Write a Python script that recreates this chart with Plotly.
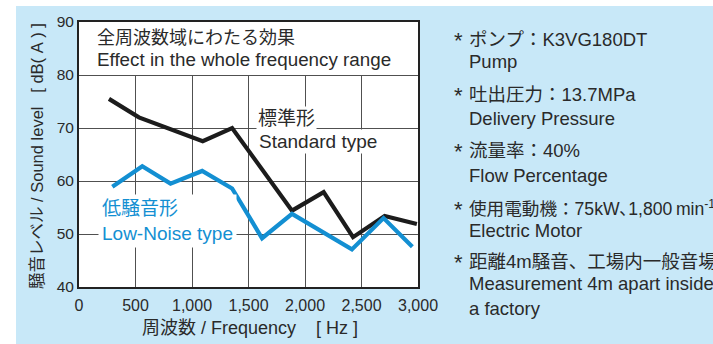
import plotly.graph_objects as go

# Noise spectrum of the standard-type pump  (frequency [Hz], level [dB(A)])
std_freq = [265, 530, 1095, 1355, 1885, 2165, 2425, 2705, 2990]
std_db = [75.5, 72.0, 67.5, 70.0, 54.4, 57.9, 49.4, 53.4, 51.9]

# Noise spectrum of the low-noise-type pump
low_freq = [295, 560, 810, 1090, 1355, 1620, 1885, 2415, 2695, 2950]
low_db = [58.9, 62.8, 59.5, 61.9, 58.6, 49.2, 53.8, 47.1, 53.0, 47.6]

x_ticks = [0, 500, 1000, 1500, 2000, 2500, 3000]
y_ticks = [40, 50, 60, 70, 80, 90]

NB = "\u00a0"
title_jp = "全周波数域にわたる効果"
title_en = "Effect in the whole frequency range"
std_label = ["標準形", "Standard type"]
low_label = ["低騒音形", "Low-Noise type"]
x_title = f"周波数 / Frequency{NB*4}[{NB}Hz{NB}]"
y_title = f"騒音レベル / Sound level{NB*3}[{NB}dB({NB}A{NB}){NB}]"

# Test conditions: Japanese heading line, English explanation lines
cond_jp = [
    "ポンプ：K3VG180DT",
    "吐出圧力：13.7MPa",
    "流量率：40%",
    "使用電動機：75kW､1,800\u2009min<sup>-1</sup>",
    "距離4m騒音、工場内一般音場",
]
cond_jp_size = [18.5, 18.5, 18.5, 17.6, 18.5]
cond_en = [
    ["Pump"],
    ["Delivery Pressure"],
    ["Flow Percentage"],
    ["Electric Motor"],
    ["Measurement 4m apart inside", "a factory"],
]

# ---- styling / layout constants ----
W, H = 713, 344
L, R, T, B = 79, 295, 22, 57
PW, PH = W - L - R, H - T - B
BG_BLUE = "#c8e8f8"
INK = "#2a2a2a"
BLACK_LINE = "#1c1c1c"
BLUE = "#138fd2"
GRID = "#505050"
FONT = "Liberation Sans, Arial, Noto Sans CJK JP, sans-serif"


def px_x(px):
    return (px - L) / PW


def px_y(py):
    return 1 - (py - T) / PH


fig = go.Figure()

fig.add_trace(go.Scatter(
    x=std_freq, y=std_db, mode="lines",
    line=dict(color=BLACK_LINE, width=4.2),
    name="Standard type", hoverinfo="skip",
))
fig.add_trace(go.Scatter(
    x=low_freq, y=low_db, mode="lines",
    line=dict(color=BLUE, width=4.2),
    name="Low-Noise type", hoverinfo="skip",
))

annotations = []

# Heading inside the plot
annotations.append(dict(
    xref="paper", yref="paper", x=px_x(95), y=px_y(38),
    text=title_jp, showarrow=False, xanchor="left", yanchor="middle",
    font=dict(family=FONT, size=18, color=INK),
))
annotations.append(dict(
    xref="paper", yref="paper", x=px_x(95), y=px_y(60),
    text=title_en, showarrow=False, xanchor="left", yanchor="middle",
    font=dict(family=FONT, size=18.8, color=INK),
))

# Series labels, each line on its own white box
annotations.append(dict(
    xref="paper", yref="paper", x=px_x(256), y=px_y(119),
    text=std_label[0], showarrow=False, xanchor="left", yanchor="middle",
    font=dict(family=FONT, size=19, color=INK),
    bgcolor="white", borderpad=1,
))
annotations.append(dict(
    xref="paper", yref="paper", x=px_x(257), y=px_y(141),
    text=std_label[1], showarrow=False, xanchor="left", yanchor="middle",
    font=dict(family=FONT, size=19, color=INK),
    bgcolor="white", borderpad=1,
))
annotations.append(dict(
    xref="paper", yref="paper", x=px_x(98), y=px_y(221),
    text=low_label[0] + "<br>" + low_label[1], showarrow=False,
    xanchor="left", yanchor="middle", align="left",
    font=dict(family=FONT, size=19, color=BLUE),
    bgcolor="white", borderpad=3,
))

# Axis titles
annotations.append(dict(
    xref="paper", yref="paper", x=px_x(250), y=px_y(328),
    text=x_title, showarrow=False, xanchor="center", yanchor="middle",
    font=dict(family=FONT, size=18, color=INK),
))
annotations.append(dict(
    xref="paper", yref="paper", x=px_x(37), y=px_y(156),
    text=y_title, showarrow=False, xanchor="center", yanchor="middle",
    textangle=-90,
    font=dict(family=FONT, size=16.5, color=INK),
))

# Test-condition notes on the right
jp_rows = [39, 95, 150, 208, 261]
en_rows = [[62], [119], [175], [230], [283, 308]]
for jp, size, en, yj, ye in zip(cond_jp, cond_jp_size, cond_en, jp_rows, en_rows):
    annotations.append(dict(
        xref="paper", yref="paper", x=px_x(452), y=px_y(yj + 1),
        text="*", showarrow=False, xanchor="left", yanchor="middle",
        font=dict(family=FONT, size=22, color=INK),
    ))
    annotations.append(dict(
        xref="paper", yref="paper", x=px_x(467), y=px_y(yj),
        text=jp, showarrow=False, xanchor="left", yanchor="middle",
        font=dict(family=FONT, size=size, color=INK),
    ))
    for line, yy in zip(en, ye):
        annotations.append(dict(
            xref="paper", yref="paper", x=px_x(467), y=px_y(yy),
            text=line, showarrow=False, xanchor="left", yanchor="middle",
            font=dict(family=FONT, size=18.5, color=INK),
        ))

shapes = [
    # white margin strips around the light-blue panel
    dict(type="rect", xref="paper", yref="paper", layer="below",
         x0=px_x(0), x1=px_x(16), y0=px_y(H), y1=px_y(0),
         fillcolor="white", line=dict(width=0)),
    dict(type="rect", xref="paper", yref="paper", layer="below",
         x0=px_x(0), x1=px_x(W), y0=px_y(6), y1=px_y(0),
         fillcolor="white", line=dict(width=0)),
    # clear band behind the heading (no grid there)
    dict(type="rect", xref="x", yref="y", layer="between",
         x0=0, x1=3000, y0=80, y1=90,
         fillcolor="white", line=dict(width=0)),
]

fig.update_layout(
    width=W, height=H,
    margin=dict(l=L, r=R, t=T, b=B, pad=0),
    paper_bgcolor=BG_BLUE,
    plot_bgcolor="white",
    showlegend=False,
    annotations=annotations,
    shapes=shapes,
    xaxis=dict(
        range=[0, 3000], tickvals=x_ticks, tickformat=",",
        showgrid=True, gridcolor=GRID, gridwidth=1,
        showline=True, linecolor="#222222", linewidth=2, mirror=True,
        ticks="", zeroline=False, ticklabelstandoff=3,
        tickfont=dict(family=FONT, size=16, color=INK),
    ),
    yaxis=dict(
        range=[40, 90], tickvals=y_ticks,
        showgrid=True, gridcolor=GRID, gridwidth=1,
        showline=True, linecolor="#222222", linewidth=2, mirror=True,
        ticks="", zeroline=False,
        tickfont=dict(family=FONT, size=15.5, color=INK),
    ),
)

fig.write_html("out.html")
